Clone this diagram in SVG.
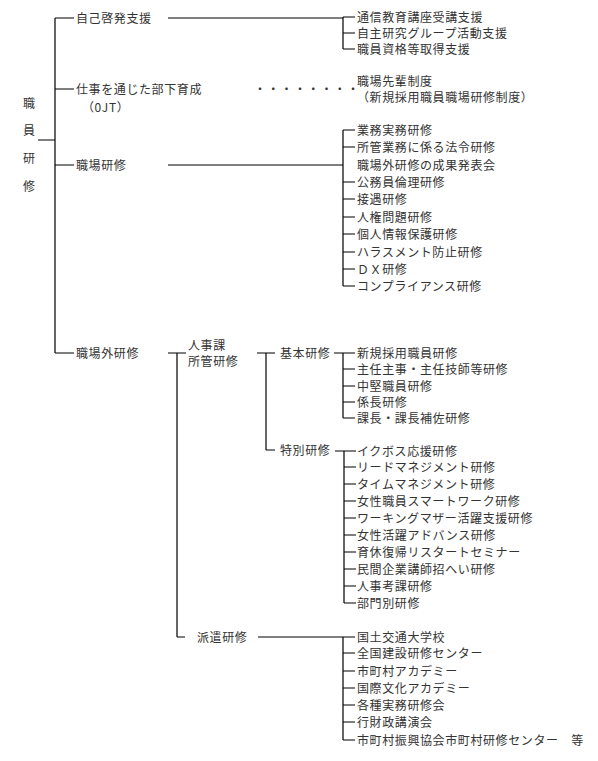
<svg xmlns="http://www.w3.org/2000/svg" width="598" height="761" viewBox="0 0 598 761">
<style>
text{font-family:"Noto Sans CJK JP","Noto Sans",sans-serif;font-size:12px;fill:#333;letter-spacing:0.6px}
.ln{stroke:#000;stroke-width:1.2;fill:none}
</style>
<rect width="598" height="761" fill="#fff"/>
<g id="connectors" class="ln">
<path d="M38 140H55M55 18V353M55 18H74M55 89H74M55 165H74M55 353H74"/>
<path d="M168 18H343M343 17V49M343 17H355M343 33H355M343 49H355"/>
<path d="M168 165H343M343 130V286M343 130H355M343 147H355M343 182H355M343 199H355M343 217H355M343 234H355M343 252H355M343 269H355M343 286H355"/>
<path d="M168 353H186M177 353V637M177 637H185"/>
<path d="M257 353H275M266 353V450M266 450H275"/>
<path d="M334 353H355M343 353V418M343 369H355M343 386H355M343 402H355M343 418H355"/>
<path d="M335 451H356M344 451V603M344 467H356M344 484H356M344 501H356M344 518H356M344 535H356M344 552H356M344 569H356M344 586H356M344 603H356"/>
<path d="M258 637H355M343 637V740M343 653H355M343 671H355M343 688H355M343 705H355M343 722H355M343 740H355"/>
</g>
<g id="root"><text x="23" y="108">職</text><text x="23" y="135">員</text><text x="23" y="163">研</text><text x="23" y="191">修</text></g>
<g id="jiko"><text x="76" y="23">自己啓発支援</text></g>
<g id="jiko-items"><text x="357" y="21.5">通信教育講座受講支援</text><text x="357" y="37.5">自主研究グループ活動支援</text><text x="357" y="53.5">職員資格等取得支援</text></g>
<g id="ojt"><text x="76" y="94">仕事を通じた部下育成</text><text x="82" y="112">（0JT）</text></g>
<g id="dots"><text x="254" y="94" style="letter-spacing:1.3px">・・・・・・・・</text></g>
<g id="senpai"><text x="357" y="86">職場先輩制度</text><text x="357" y="102">（新規採用職員職場研修制度）</text></g>
<g id="shokuba"><text x="76" y="170">職場研修</text></g>
<g id="shokuba-items">
<text x="357" y="135">業務実務研修</text><text x="357" y="152">所管業務に係る法令研修</text><text x="357" y="170">職場外研修の成果発表会</text><text x="357" y="187">公務員倫理研修</text><text x="357" y="204">接遇研修</text><text x="357" y="222">人権問題研修</text><text x="357" y="239">個人情報保護研修</text><text x="357" y="257">ハラスメント防止研修</text><text x="357" y="274">ＤＸ研修</text><text x="357" y="291">コンプライアンス研修</text>
</g>
<g id="gaibu"><text x="76" y="358">職場外研修</text></g>
<g id="jinji"><text x="188" y="350">人事課</text><text x="188" y="366">所管研修</text></g>
<g id="kihon"><text x="280" y="358">基本研修</text></g>
<g id="kihon-items"><text x="357" y="358">新規採用職員研修</text><text x="357" y="374">主任主事・主任技師等研修</text><text x="357" y="391">中堅職員研修</text><text x="357" y="407">係長研修</text><text x="357" y="423">課長・課長補佐研修</text></g>
<g id="tokubetsu"><text x="280" y="455">特別研修</text></g>
<g id="tokubetsu-items">
<text x="357" y="456">イクボス応援研修</text><text x="357" y="472">リードマネジメント研修</text><text x="357" y="489">タイムマネジメント研修</text><text x="357" y="506">女性職員スマートワーク研修</text><text x="357" y="523">ワーキングマザー活躍支援研修</text><text x="357" y="540">女性活躍アドバンス研修</text><text x="357" y="557">育休復帰リスタートセミナー</text><text x="357" y="574">民間企業講師招へい研修</text><text x="357" y="591">人事考課研修</text><text x="357" y="608">部門別研修</text>
</g>
<g id="haken"><text x="197" y="642">派遣研修</text></g>
<g id="haken-items">
<text x="357" y="642">国土交通大学校</text><text x="357" y="658">全国建設研修センター</text><text x="357" y="676">市町村アカデミー</text><text x="357" y="693">国際文化アカデミー</text><text x="357" y="710">各種実務研修会</text><text x="357" y="727">行財政講演会</text><text x="357" y="745">市町村振興協会市町村研修センター　等</text>
</g>
</svg>
